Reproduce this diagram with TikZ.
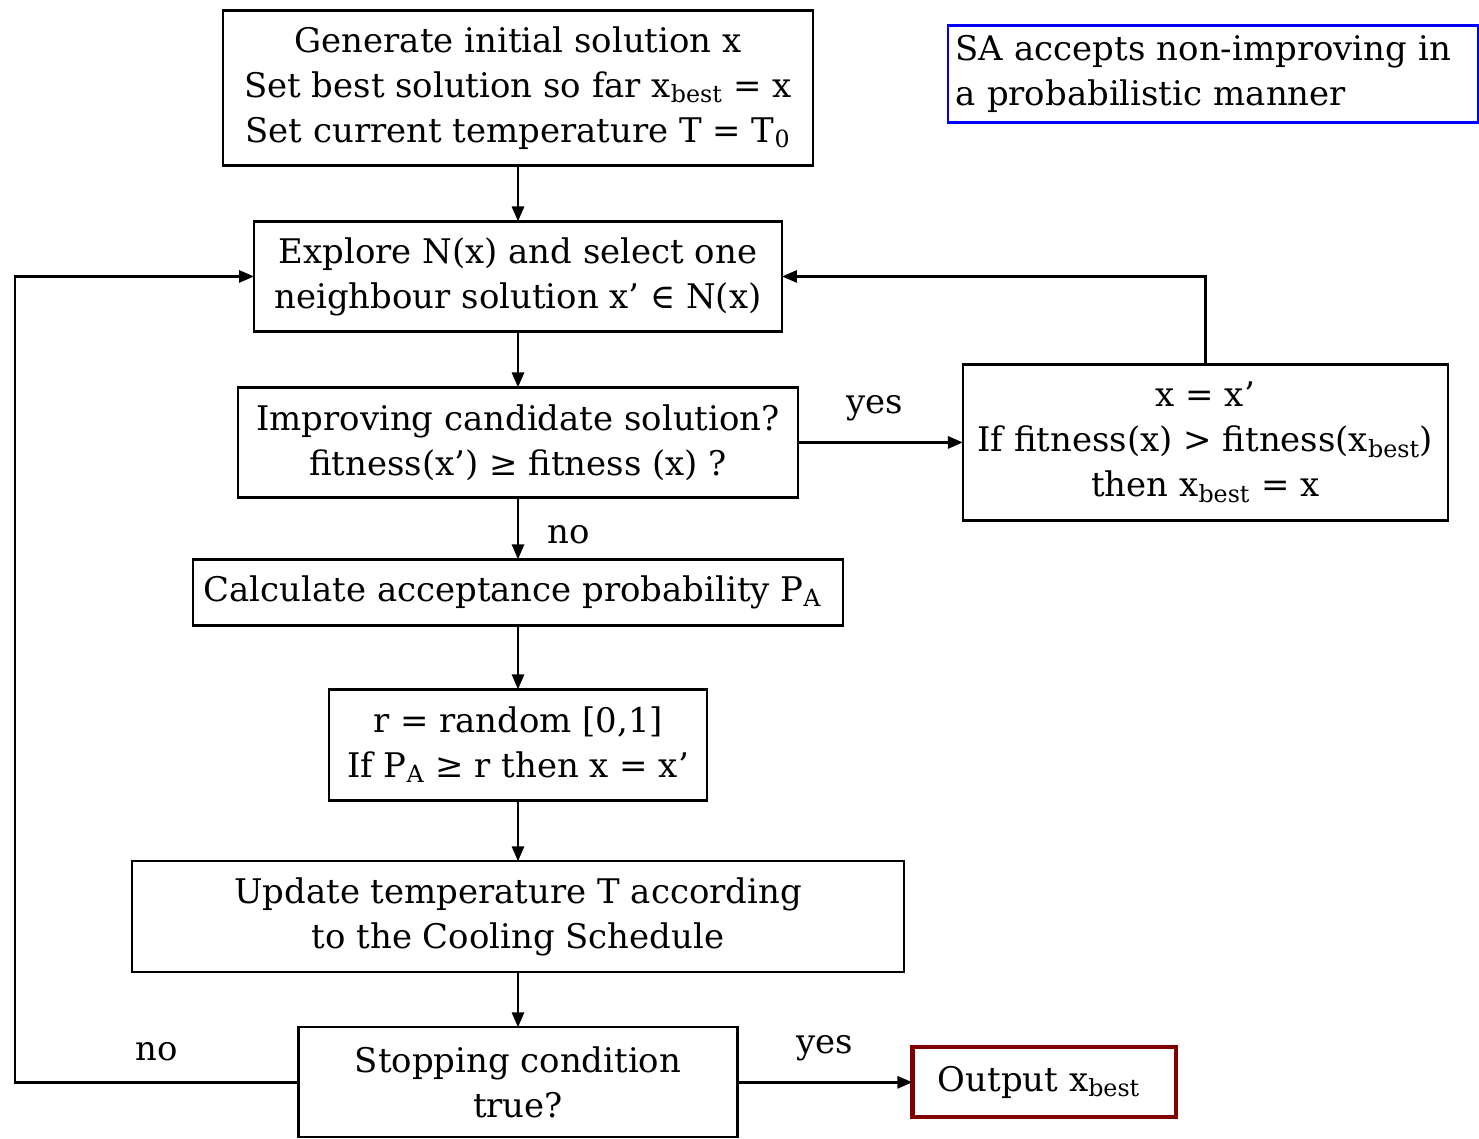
\documentclass[tikz,border=0pt]{standalone}
\usepackage{fontspec}
\setmainfont{DejaVu Serif}
\usetikzlibrary{positioning,arrows.meta}
\definecolor{notecolor}{RGB}{0,0,255}
\definecolor{outputcolor}{RGB}{128,0,0}

\begin{document}
\begin{tikzpicture}[
    x=0.02cm, y=-0.02cm,
    every node/.style={font=\fontsize{19.3}{25.6}\selectfont},
    stepnode/.style={rectangle, draw, line width=1.3pt, align=center, inner sep=2pt, outer sep=0pt},
    notenode/.style={rectangle, draw=notecolor, line width=1.4pt, align=left, inner sep=2pt, outer sep=0pt},
    outnode/.style={rectangle, draw=outputcolor, line width=2.4pt, align=center, outer sep=0pt},
    arrow/.style={-{Triangle[length=0.3cm,width=0.24cm]}, line width=1.6pt}
]
\useasboundingbox (0,0) rectangle (1479,1138);

% Main column
\node[stepnode, minimum width=11.8cm, minimum height=3.1cm] (init) at (518,88) {
    Generate initial solution x\\
    Set best solution so far x\textsubscript{best} = x\\
    Set current temperature T = T\textsubscript{0}
};
\node[stepnode, minimum width=10.56cm, minimum height=2.2cm, below=1.12cm of init] (explore) {
    Explore N(x) and select one\\
    neighbour solution x’ ∈ N(x)
};
\node[stepnode, minimum width=11.2cm, minimum height=2.2cm, below=1.12cm of explore] (improve) {
    Improving candidate solution?\\
    fitness(x’) ≥ fitness (x) ?
};
\node[stepnode, minimum width=13cm, minimum height=1.32cm, below=1.24cm of improve] (prob) {
    Calculate acceptance probability P\textsubscript{A}
};
\node[stepnode, minimum width=7.56cm, minimum height=2.22cm, below=1.28cm of prob] (random) {
    r = random [0,1]\\
    If P\textsubscript{A} ≥ r then x = x’
};
\node[stepnode, minimum width=15.44cm, minimum height=2.22cm, below=1.22cm of random] (cool) {
    Update temperature T according\\
    to the Cooling Schedule
};
\node[stepnode, minimum width=8.78cm, minimum height=2.2cm, below=1.1cm of cool] (stop) {
    Stopping condition\\
    true?
};

% Side boxes
\node[stepnode, minimum width=9.7cm, minimum height=3.12cm, right=3.3cm of improve] (accept) {
    x = x’\\
    If fitness(x) > fitness(x\textsubscript{best})\\
    then x\textsubscript{best} = x
};
\node[outnode, minimum width=5.28cm, minimum height=1.4cm, right=3.5cm of stop] (output) {
    Output x\textsubscript{best}
};
\node[notenode, minimum width=10.6cm, minimum height=1.94cm, text width=10.3cm] (note) at (1213,74) {
    SA accepts non-improving in\\
    a probabilistic manner
};

% Flow
\draw[arrow] (init) -- (explore);
\draw[arrow] (explore) -- (improve);
\draw[arrow] (improve) -- node[right=0.45cm, pos=0.6] {no} (prob);
\draw[arrow] (prob) -- (random);
\draw[arrow] (random) -- (cool);
\draw[arrow] (cool) -- (stop);
\draw[arrow] (improve) -- node[above=0.28cm, xshift=-0.12cm] {yes} (accept);
\draw[arrow] (accept) |- (explore);
\draw[arrow] (stop) -- node[above=0.28cm] {yes} (output);

% Loop back
\coordinate (back) at (15,1082);
\draw[arrow] (stop.west) -- node[above=0.28cm] {no} (stop.west -| back) |- (explore.west);

\end{tikzpicture}
\end{document}
